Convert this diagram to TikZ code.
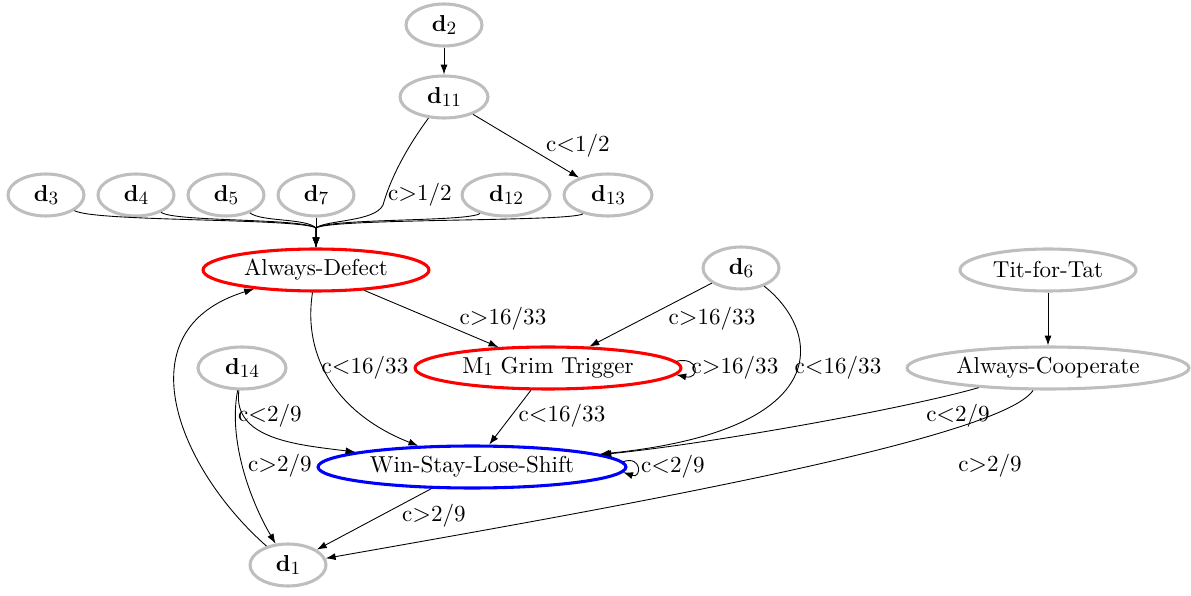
\documentclass[tikz,border=0pt]{standalone}
\usepackage{amsmath}
\usepackage{tikz}
\usetikzlibrary{shapes.geometric,arrows.meta}
\definecolor{nodegray}{RGB}{190,190,190}
\newcommand{\dsub}[1]{\textbf{d}\raisebox{-0.3ex}{\fontsize{8.5pt}{9pt}\selectfont #1}}

\begin{document}
\begin{tikzpicture}[
				x=0.016cm,
				y=-0.016cm,
				font=\fontsize{10.5pt}{12.6pt}\selectfont,
				state/.style={ellipse,draw=nodegray,line width=1.4pt,inner sep=0pt,minimum height=0.672cm,minimum width=1.216cm},
				wide/.style={minimum width=1.408cm},
				edge/.style={-{Latex[length=4.5pt,width=3.2pt]},thin},
				lbl/.style={inner sep=0pt}
			]
			\useasboundingbox (0,0) rectangle (1191,596);
			
			\node [state] (d2) at (444,25) {\dsub{2}};
			\node [state,wide] (d11) at (444,97) {\dsub{11}};
			\node [state] (d3) at (46,195) {\dsub{3}};
			\node [state] (d4) at (136,195) {\dsub{4}};
			\node [state] (d5) at (226,195) {\dsub{5}};
			\node [state] (d7) at (316,195) {\dsub{7}};
			\node [state,wide] (d12) at (506,195) {\dsub{12}};
			\node [state,wide] (d13) at (608,195) {\dsub{13}};
			\node [state,draw=red,minimum width=3.616cm] (defect) at (316,270) {Always-Defect};
			\node [state] (d6) at (741,268) {\dsub{6}};
			\node [state,minimum width=2.816cm] (tft) at (1048,270) {Tit-for-Tat};
			\node [state,wide] (d14) at (242,368) {\dsub{14}};
			\node [state,draw=red,minimum width=4.256cm] (grim) at (548,368) {M\raisebox{-0.2ex}{\fontsize{8.5pt}{9pt}\selectfont 1} Grim Trigger};
			\node [state,minimum width=4.512cm] (coop) at (1048,368) {Always-Cooperate};
			\node [state,draw=blue,minimum width=4.928cm] (wsls) at (472,467) {Win-Stay-Lose-Shift};
			\node [state] (d1) at (288,565) {\dsub{1}};
			\coordinate (merge) at (316,228);
			
			\draw [edge] (d2) -- (d11);
			\draw [edge] (d11) -- (d13);
			\draw [edge] (d11) .. controls (405,150) and (390,180) .. (383,205) .. controls (375,222) and (325,220) .. (merge) -- (defect);
			\draw [edge] (d3) .. controls (95,222) and (300,218) .. (merge) -- (defect);
			\draw [edge] (d4) .. controls (175,222) and (302,218) .. (merge) -- (defect);
			\draw [edge] (d5) .. controls (262,222) and (306,218) .. (merge) -- (defect);
			\draw [edge] (d7) -- (defect);
			\draw [edge] (d12) .. controls (468,222) and (330,218) .. (merge) -- (defect);
			\draw [edge] (d13) .. controls (572,222) and (332,218) .. (merge) -- (defect);
			\draw [edge] (defect) -- (grim);
			\draw [edge] (defect) .. controls (302,360) and (340,415) .. (wsls);
			\draw [edge] (d6) -- (grim);
			\draw [edge] (d6) .. controls (820,330) and (840,430) .. (wsls);
			\draw [edge] (grim.3) .. controls (700,356) and (700,380) .. (grim.-3);
			\draw [edge] (grim) -- (wsls);
			\draw [edge] (tft) -- (coop);
			\draw [edge] (coop) .. controls (900,410) and (700,445) .. (wsls);
			\draw [edge] (coop) .. controls (1000,440) and (600,510) .. (d1);
			\draw [edge] (d14) .. controls (232,440) and (300,445) .. (wsls);
			\draw [edge] (d14) .. controls (228,440) and (250,500) .. (d1);
			\draw [edge] (wsls.2) .. controls (642,455) and (642,479) .. (wsls.-2);
			\draw [edge] (wsls) -- (d1);
			\draw [edge] (d1) .. controls (180,470) and (120,330) .. (defect);
			
			\node [lbl] (l1) at (578,146) {c$<$1/2};
			\node [lbl] (l2) at (420,195) {c$>$1/2};
			\node [lbl] (l3) at (503,319) {c$>$16/33};
			\node [lbl] (l4) at (365,368) {c$<$16/33};
			\node [lbl] (l5) at (712,319) {c$>$16/33};
			\node [lbl] (l6) at (838,368) {c$<$16/33};
			\node [lbl] (l7) at (735,368) {c$>$16/33};
			\node [lbl] (l8) at (562,416) {c$<$16/33};
			\node [lbl] (l9) at (958,416) {c$<$2/9};
			\node [lbl] (l10) at (990,466) {c$>$2/9};
			\node [lbl] (l11) at (270,416) {c$<$2/9};
			\node [lbl] (l12) at (280,466) {c$>$2/9};
			\node [lbl] (l13) at (673,467) {c$<$2/9};
			\node [lbl] (l14) at (434,516) {c$>$2/9};
		\end{tikzpicture}
\end{document}
